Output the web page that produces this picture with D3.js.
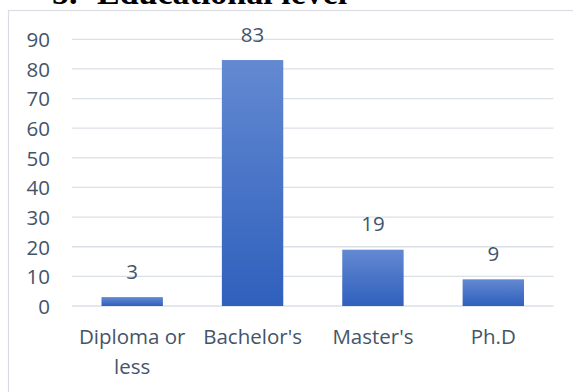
<!DOCTYPE html>
<html>
<head>
<meta charset="utf-8">
<script src="https://cdn.jsdelivr.net/npm/d3@7"></script>
<style>
  body { margin: 0; background: #fff; }
  svg { display: block; }
</style>
</head>
<body>
<svg></svg>
<script>
// data
var categories = [["Diploma or", "less"], ["Bachelor's"], ["Master's"], ["Ph.D"]];
var counts = [3, 83, 19, 9];
var yTicks = [0, 10, 20, 30, 40, 50, 60, 70, 80, 90];

var W = 573, H = 392;
var textColor = "#44546a";

var svg = d3.select("svg")
    .attr("width", W)
    .attr("height", H);

// gradient for bars (lighter on top)
var defs = svg.append("defs");
var grad = defs.append("linearGradient")
    .attr("id", "barGrad")
    .attr("x1", 0).attr("y1", 0)
    .attr("x2", 0).attr("y2", 1);
grad.append("stop").attr("offset", "0%").attr("stop-color", "#6389d1");
grad.append("stop").attr("offset", "100%").attr("stop-color", "#2f60bd");

// title, cut off at the top
svg.append("text")
    .attr("x", 52)
    .attr("y", 3.5)
    .style("font-family", "'Liberation Serif', 'Times New Roman', serif")
    .style("font-weight", "bold")
    .style("font-size", "34px")
    .attr("fill", "#000")
    .text("5.");
svg.append("text")
    .attr("x", 97)
    .attr("y", 3.5)
    .style("font-family", "'Liberation Serif', 'Times New Roman', serif")
    .style("font-weight", "bold")
    .style("font-size", "34px")
    .attr("fill", "#000")
    .text("Educational level");

// chart border
svg.append("rect")
    .attr("x", 8.5)
    .attr("y", 10.5)
    .attr("width", W + 20)
    .attr("height", H + 20)
    .attr("fill", "none")
    .attr("stroke", "#d9dce2")
    .attr("stroke-width", 1.2);

// scales
var x = d3.scaleBand()
    .domain(d3.range(counts.length))
    .range([72, 553.5])
    .paddingInner(0.49)
    .paddingOuter(0.245);

var y = d3.scaleLinear()
    .domain([0, 90])
    .range([306, 39.3]);

// gridlines
svg.append("g")
  .selectAll("line")
  .data(yTicks)
  .enter()
  .append("line")
    .attr("x1", 72)
    .attr("x2", 553.5)
    .attr("y1", function(d) { return y(d); })
    .attr("y2", function(d) { return y(d); })
    .attr("stroke", "#dbdfe6")
    .attr("stroke-width", 1.3);

// y axis labels
var yAxis = d3.axisLeft(y).tickValues(yTicks).tickSize(0).tickPadding(0);
var gy = svg.append("g")
    .attr("transform", "translate(50,0)")
    .call(yAxis);
gy.select(".domain").remove();
gy.selectAll("text")
    .attr("dy", "0.36em")
    .style("font-family", "'Open Sans', sans-serif")
    .style("font-size", "20.5px")
    .attr("fill", textColor);

// bars
svg.append("g")
  .selectAll("rect")
  .data(counts)
  .enter()
  .append("rect")
    .attr("x", function(d, i) { return x(i); })
    .attr("width", x.bandwidth())
    .attr("y", function(d) { return y(d); })
    .attr("height", function(d) { return y(0) - y(d); })
    .attr("fill", "url(#barGrad)");

// value labels
svg.append("g")
  .selectAll("text")
  .data(counts)
  .enter()
  .append("text")
    .attr("x", function(d, i) { return x(i) + x.bandwidth() / 2; })
    .attr("y", function(d) { return y(d) - 18.5; })
    .attr("text-anchor", "middle")
    .style("font-family", "'Open Sans', sans-serif")
    .style("font-size", "20.5px")
    .attr("fill", textColor)
    .text(function(d) { return d; });

// category labels
var cat = svg.append("g")
  .selectAll("text")
  .data(categories)
  .enter()
  .append("text")
    .attr("text-anchor", "middle")
    .style("font-family", "'Open Sans', sans-serif")
    .style("font-size", "20.5px")
    .attr("fill", textColor);

cat.selectAll("tspan")
  .data(function(d, i) { return d.map(function(s) { return {s: s, i: i}; }); })
  .enter()
  .append("tspan")
    .attr("x", function(d) { return x(d.i) + x.bandwidth() / 2; })
    .attr("y", function(d, j) { return 343.5 + j * 30.5; })
    .text(function(d) { return d.s; });
</script>
</body>
</html>
